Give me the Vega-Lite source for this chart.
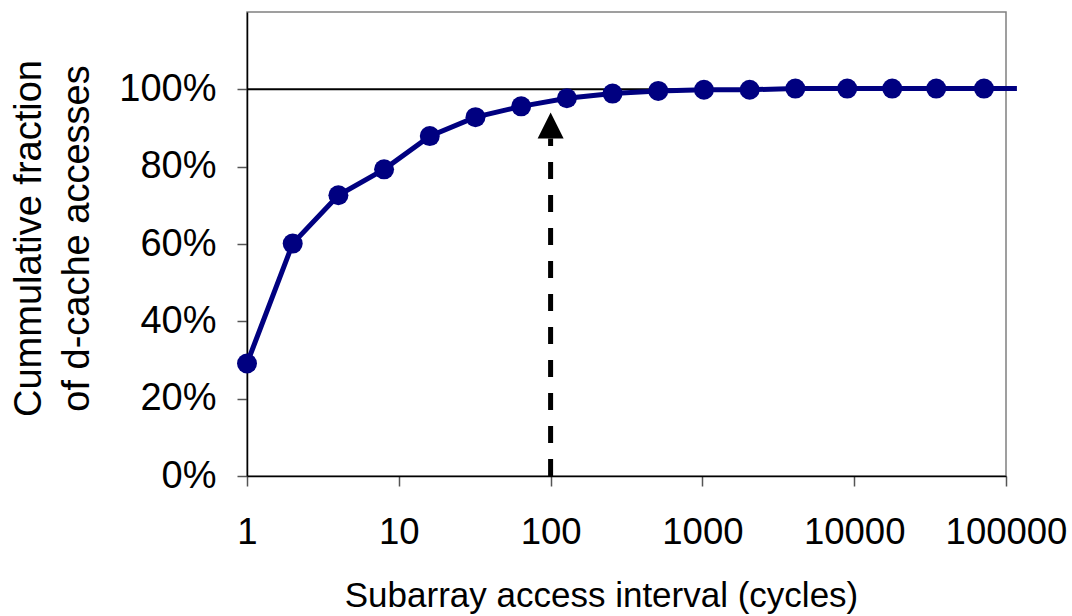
{
  "$schema": "https://vega.github.io/schema/vega-lite/v6.json",
  "autosize": "none",
  "width": 759,
  "height": 464,
  "padding": {"left": 247, "top": 12, "right": 66, "bottom": 140},
  "background": "white",
  "config": {
    "font": "Liberation Sans",
    "view": {"stroke": "#808080", "strokeWidth": 1.5}
  },
  "datasets": {
    "curve": [
      {"interval": 1, "fraction": 0.291},
      {"interval": 2, "fraction": 0.601},
      {"interval": 4, "fraction": 0.726},
      {"interval": 8, "fraction": 0.793},
      {"interval": 16, "fraction": 0.879},
      {"interval": 32, "fraction": 0.928},
      {"interval": 64, "fraction": 0.956},
      {"interval": 128, "fraction": 0.977},
      {"interval": 256, "fraction": 0.989},
      {"interval": 512, "fraction": 0.996},
      {"interval": 1024, "fraction": 0.999},
      {"interval": 2048, "fraction": 0.999},
      {"interval": 4096, "fraction": 1.002},
      {"interval": 9000, "fraction": 1.002},
      {"interval": 17800, "fraction": 1.002},
      {"interval": 34700, "fraction": 1.002},
      {"interval": 71600, "fraction": 1.002},
      {"interval": 118000, "fraction": 1.002}
    ],
    "ref": [{"level": 1}],
    "arrow": [{"interval": 100, "start": 0, "end": 0.873, "head": 0.9065}]
  },
  "layer": [
    {
      "data": {"name": "ref"},
      "mark": {"type": "rule", "color": "#000000", "strokeWidth": 2},
      "encoding": {
        "y": {"field": "level", "type": "quantitative", "scale": {"domain": [0, 1.2]}}
      }
    },
    {
      "data": {"name": "curve"},
      "mark": {"type": "line", "color": "#000080", "strokeWidth": 5, "clip": false},
      "encoding": {
        "x": {
          "field": "interval", "type": "quantitative",
          "scale": {"type": "log", "domain": [1, 100000]},
          "axis": {
            "values": [1, 10, 100, 1000, 10000, 100000],
            "format": "d",
            "grid": false,
            "title": "Subarray access interval (cycles)",
            "titleFontSize": 35,
            "titleFontWeight": "normal",
            "titleColor": "#000000",
            "titleX": 354,
            "titleY": 130,
            "titleBaseline": "alphabetic",
            "labelFontSize": 36.5,
            "labelColor": "#000000",
            "labelPadding": 28,
            "labelFlush": false,
            "labelOverlap": false,
            "tickSize": 10,
            "tickColor": "#555555",
            "tickWidth": 1.5,
            "domainColor": "#000000",
            "domainWidth": 1.5
          }
        },
        "y": {
          "field": "fraction", "type": "quantitative",
          "scale": {"domain": [0, 1.2]},
          "axis": {
            "values": [0, 0.2, 0.4, 0.6, 0.8, 1.0],
            "format": ".0%",
            "grid": false,
            "title": ["Cummulative fraction", "of d-cache accesses"],
            "titleFontSize": 38,
            "titleFontWeight": "normal",
            "titleColor": "#000000",
            "titleLineHeight": 48,
            "titleAngle": -90,
            "titleAlign": "center",
            "titleBaseline": "bottom",
            "titleX": -199,
            "titleY": 226,
            "labelFontSize": 38,
            "labelColor": "#000000",
            "labelPadding": 21,
            "tickSize": 10,
            "tickColor": "#555555",
            "tickWidth": 1.5,
            "domainColor": "#000000",
            "domainWidth": 1.5
          }
        }
      }
    },
    {
      "data": {"name": "curve"},
      "transform": [{"filter": "datum.interval <= 100000"}],
      "mark": {"type": "point", "shape": "circle", "filled": true, "opacity": 1, "color": "#000080", "size": 400, "clip": false},
      "encoding": {
        "x": {"field": "interval", "type": "quantitative", "scale": {"type": "log", "domain": [1, 100000]}},
        "y": {"field": "fraction", "type": "quantitative", "scale": {"domain": [0, 1.2]}}
      }
    },
    {
      "data": {"name": "arrow"},
      "mark": {"type": "rule", "color": "#000000", "strokeWidth": 5, "strokeDash": [17, 16]},
      "encoding": {
        "x": {"field": "interval", "type": "quantitative", "scale": {"type": "log", "domain": [1, 100000]}},
        "y": {"field": "start", "type": "quantitative", "scale": {"domain": [0, 1.2]}},
        "y2": {"field": "end"}
      }
    },
    {
      "data": {"name": "arrow"},
      "mark": {"type": "point", "shape": "M0,-1L1,1L-1,1Z", "filled": true, "opacity": 1, "color": "#000000", "size": 676},
      "encoding": {
        "x": {"field": "interval", "type": "quantitative", "scale": {"type": "log", "domain": [1, 100000]}},
        "y": {"field": "head", "type": "quantitative", "scale": {"domain": [0, 1.2]}}
      }
    }
  ]
}
